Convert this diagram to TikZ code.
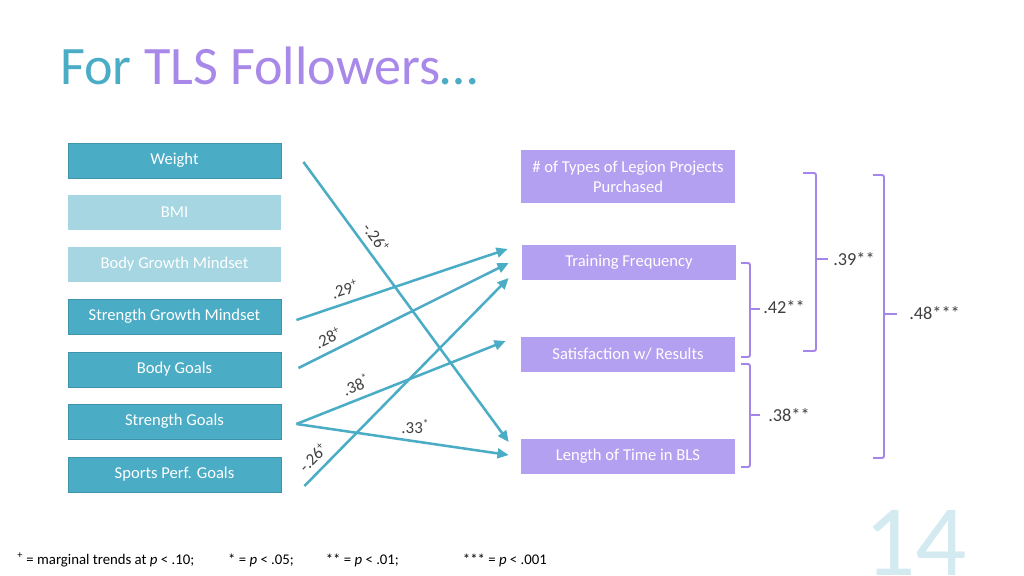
\documentclass[tikz,border=0pt]{standalone}
\usepackage{fontspec}
\setmainfont{Carlito}
\usetikzlibrary{arrows.meta,calc}
\definecolor{tealbox}{HTML}{4BACC6}
\definecolor{tealedge}{HTML}{3F93AA}
\definecolor{lighttealbox}{HTML}{A5D6E2}
\definecolor{purplebox}{HTML}{B4A0F0}
\definecolor{purpleline}{HTML}{A486EA}
\definecolor{titlepurple}{HTML}{A888E8}
\definecolor{labelgray}{HTML}{404040}
\definecolor{pagenum}{HTML}{D3EAF1}
\tikzset{
  predbox/.style={draw=tealedge, fill=tealbox, line width=0.6pt, text=white, minimum width=5.325cm, minimum height=0.875cm, inner sep=0pt, font=\fontsize{11.8}{14.2}\selectfont},
  fadedbox/.style={predbox, draw=none, fill=lighttealbox},
  outbox/.style={fill=purplebox, text=white, minimum width=5.35cm, minimum height=0.875cm, inner sep=0pt, align=center, font=\fontsize{11.8}{14.2}\selectfont},
  pathline/.style={draw=tealbox, line width=1.8pt, -{Triangle[length=8pt,width=7pt]}},
  coef/.style={text=labelgray, font=\fontsize{12}{14}\selectfont, inner sep=4.5pt},
  bracketline/.style={draw=purpleline, line width=1.4pt, rounded corners=1.5pt},
  corr/.style={text=labelgray, font=\fontsize{13}{15}\selectfont, anchor=west, inner sep=0pt}
}
\begin{document}
\begin{tikzpicture}[x=0.025cm, y=-0.025cm]
  \useasboundingbox (0,0) rectangle (1024,576);
  \node[anchor=base west, inner sep=0pt, font=\fontsize{38.5}{42}\selectfont] (title) at (60,85) {\textcolor{tealbox}{For} \textcolor{titlepurple}{TLS Followers}\textcolor{tealbox}{…}};

  \node[predbox]  (weight) at (174.5,160.5) {Weight};
  \node[fadedbox] (bmi)    at (174.5,212.5) {BMI};
  \node[fadedbox] (bgm)    at (174.5,264.5) {Body Growth Mindset};
  \node[predbox]  (sgm)    at (174.5,316.5) {Strength Growth Mindset};
  \node[predbox]  (bodyg)  at (174.5,369.5) {Body Goals};
  \node[predbox]  (strg)   at (174.5,421.5) {Strength Goals};
  \node[predbox]  (sports) at (174.5,474.5) {Sports Perf. Goals};

  \node[outbox, minimum height=1.325cm] (types) at (628,176.5) {\# of Types of Legion Projects\\Purchased};
  \node[outbox] (training) at (629,262.5) {Training Frequency};
  \node[outbox] (satis)    at (628,354.5) {Satisfaction w/ Results};
  \node[outbox] (length)   at (628,456.5) {Length of Time in BLS};

  \draw[pathline] ($(weight.east)+(22,1.5)$) -- node[coef, pos=0.30, sloped, above] {-.26\textsuperscript{+}} ($(length.west)+(-12,-14.5)$);
  \draw[pathline] ($(sgm.east)+(15,3.5)$) -- node[coef, pos=0.25, sloped, above] {.29\textsuperscript{+}} ($(training.west)+(-14,-13.5)$);
  \draw[pathline] ($(bodyg.east)+(17,-1.5)$) -- node[coef, pos=0.17, sloped, above] {.28\textsuperscript{+}} ($(training.west)+(-13,0.5)$);
  \draw[pathline] ($(strg.east)+(15,2.5)$) -- node[coef, pos=0.31, sloped, above] {.38\textsuperscript{*}} ($(satis.west)+(-15,-13.5)$);
  \draw[pathline] ($(strg.east)+(15,2.5)$) -- node[coef, pos=0.56, above] {.33\textsuperscript{*}} ($(length.west)+(-12,-1.5)$);
  \draw[pathline] ($(sports.east)+(23,11.5)$) -- node[coef, pos=0.09, sloped, above] {-.26\textsuperscript{+}} ($(training.west)+(-13,15.5)$);

  \draw[bracketline] (741,263) -- (750,263) -- (750,357) -- (741,357);
  \draw[bracketline] (750,309) -- (760,309);
  \node[corr] (r42) at (763,307) {.42**};
  \draw[bracketline] (741,364) -- (750,364) -- (750,467) -- (741,467);
  \draw[bracketline] (750,415) -- (760,415);
  \node[corr] (r38) at (768,415) {.38**};
  \draw[bracketline] (803,173) -- (816,173) -- (816,351) -- (803,351);
  \draw[bracketline] (816,259) -- (828,259);
  \node[corr] (r39) at (833,259) {.39**};
  \draw[bracketline] (873,175) -- (884,175) -- (884,458) -- (873,458);
  \draw[bracketline] (884,314) -- (897,314);
  \node[corr] (r48) at (909,313) {.48***};

  \node[anchor=base west, inner sep=0pt, font=\fontsize{10.5}{12}\selectfont] (notes) at (17,564) {\textsuperscript{+} = marginal trends at \textit{p} < .10;\hspace{0.85cm}* = \textit{p} < .05;\hspace{0.8cm}** = \textit{p} < .01;\hspace{1.6cm}*** = \textit{p} < .001};
  \node[anchor=base west, inner sep=0pt, text=pagenum, font=\fontsize{72}{72}\selectfont] (pageno) at (864,575) {14};
\end{tikzpicture}
\end{document}
